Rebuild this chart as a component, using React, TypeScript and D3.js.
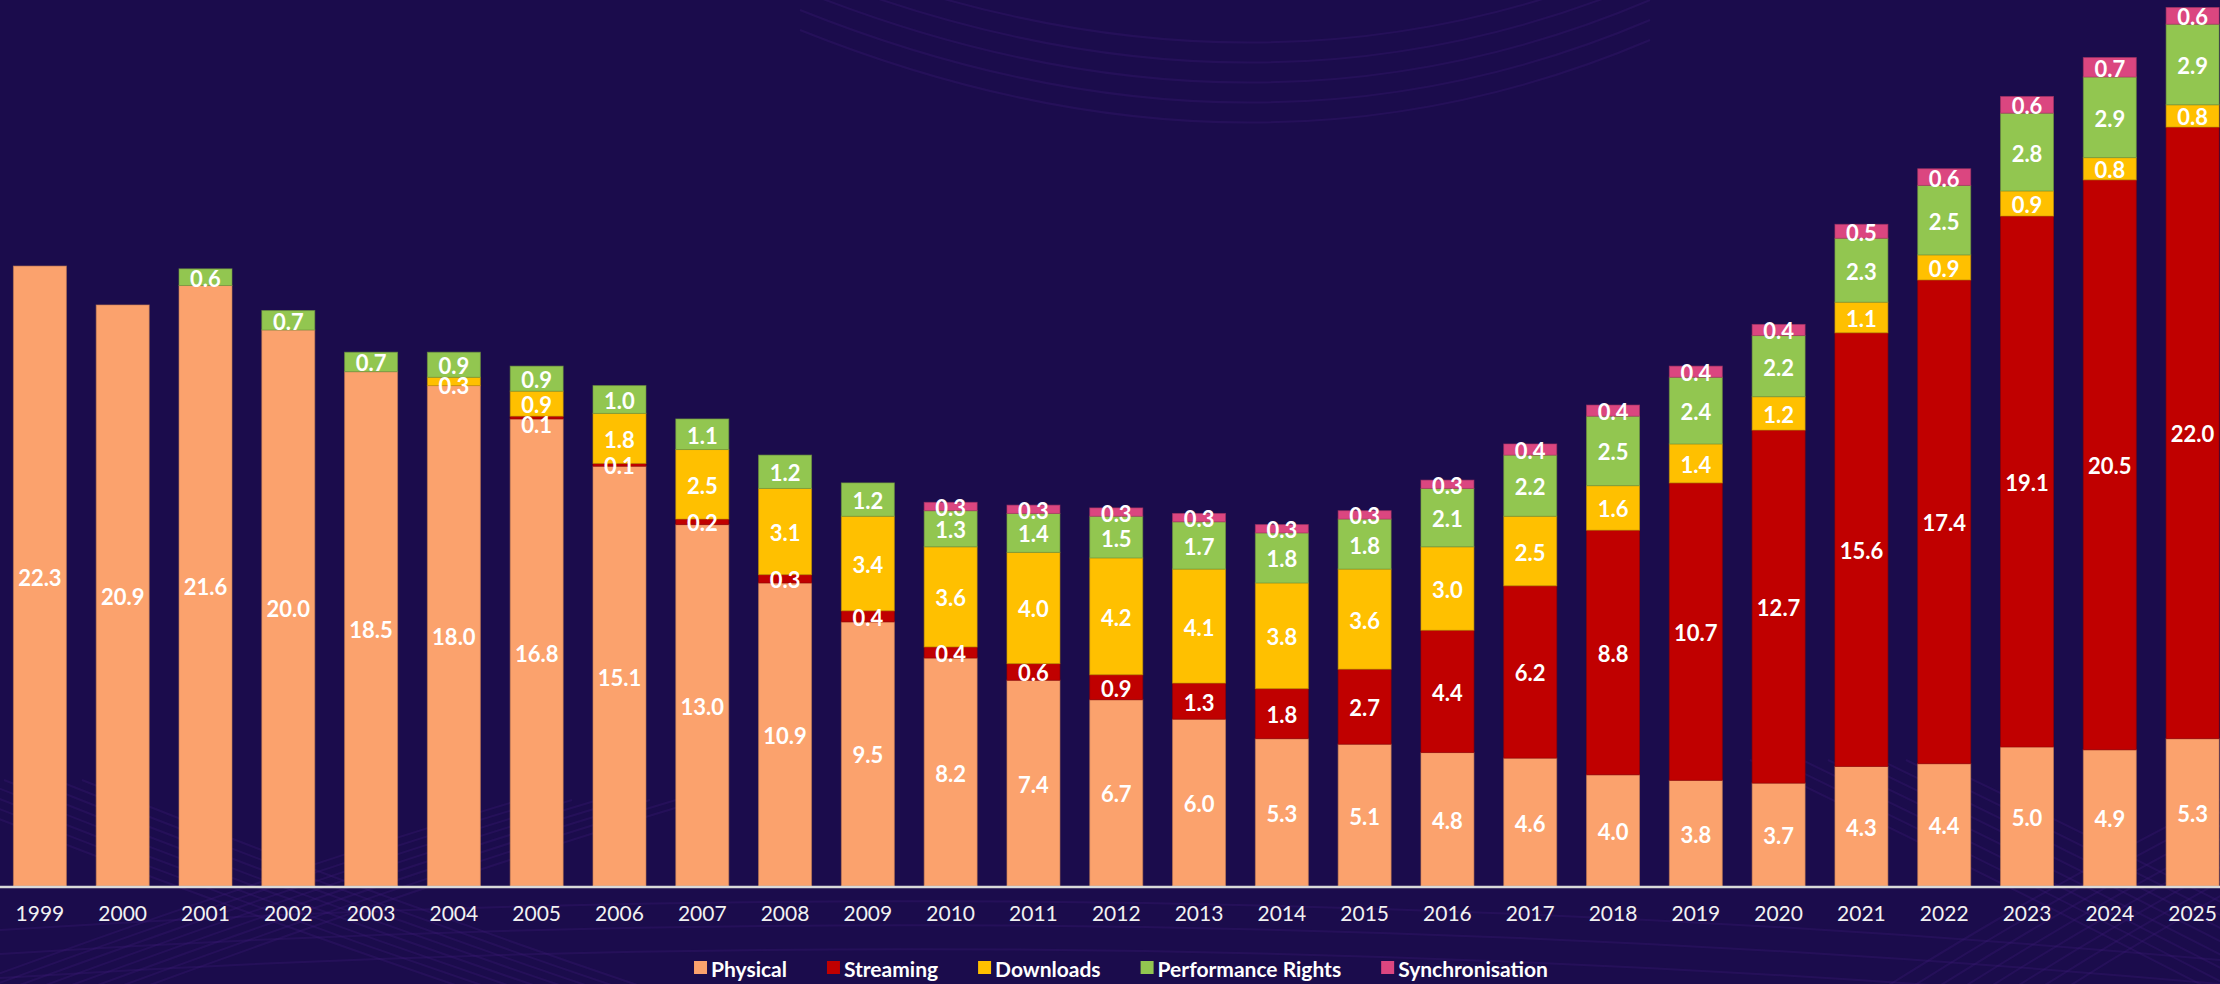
import React, { useEffect, useRef } from "react";
import * as d3 from "d3";

const width = 2220;
const height = 984;
const baseY = 886;

const years = [
  "1999", "2000", "2001", "2002", "2003", "2004", "2005", "2006", "2007",
  "2008", "2009", "2010", "2011", "2012", "2013", "2014", "2015", "2016",
  "2017", "2018", "2019", "2020", "2021", "2022", "2023", "2024", "2025",
];
const physical = [
  22.3, 20.9, 21.6, 20.0, 18.5, 18.0, 16.8, 15.1, 13.0, 10.9, 9.5, 8.2, 7.4,
  6.7, 6.0, 5.3, 5.1, 4.8, 4.6, 4.0, 3.8, 3.7, 4.3, 4.4, 5.0, 4.9, 5.3,
];
const streaming = [
  0, 0, 0, 0, 0, 0, 0.1, 0.1, 0.2, 0.3, 0.4, 0.4, 0.6, 0.9, 1.3, 1.8, 2.7,
  4.4, 6.2, 8.8, 10.7, 12.7, 15.6, 17.4, 19.1, 20.5, 22.0,
];
const downloads = [
  0, 0, 0, 0, 0, 0.3, 0.9, 1.8, 2.5, 3.1, 3.4, 3.6, 4.0, 4.2, 4.1, 3.8, 3.6,
  3.0, 2.5, 1.6, 1.4, 1.2, 1.1, 0.9, 0.9, 0.8, 0.8,
];
const performanceRights = [
  0, 0, 0.6, 0.7, 0.7, 0.9, 0.9, 1.0, 1.1, 1.2, 1.2, 1.3, 1.4, 1.5, 1.7, 1.8,
  1.8, 2.1, 2.2, 2.5, 2.4, 2.2, 2.3, 2.5, 2.8, 2.9, 2.9,
];
const synchronisation = [
  0, 0, 0, 0, 0, 0, 0, 0, 0, 0, 0, 0.3, 0.3, 0.3, 0.3, 0.3, 0.3, 0.3, 0.4,
  0.4, 0.4, 0.4, 0.5, 0.6, 0.6, 0.7, 0.6,
];

const seriesNames = [
  "Physical",
  "Streaming",
  "Downloads",
  "Performance Rights",
  "Synchronisation",
];
const seriesValues = [physical, streaming, downloads, performanceRights, synchronisation];
const colors = ["#FBA26D", "#C00000", "#FFC000", "#92C650", "#DB4680"];

const bg = "#1B0C4C";
const font = "Lato, 'Open Sans', sans-serif";

export default function App() {
  const ref = useRef<SVGSVGElement | null>(null);

  useEffect(() => {
    document.body.style.margin = "0";
    document.body.style.background = bg;
    const svg = d3.select(ref.current);
    svg.selectAll("*").remove();

    svg.append("rect").attr("width", width).attr("height", height).attr("fill", bg);

    // faint background swirls
    const deco = svg.append("g").attr("fill", "none").attr("stroke", "#3A1A72").attr("stroke-opacity", 0.35).attr("stroke-width", 2);
    for (let i = 0; i < 5; i++) {
      const off = i * 20;
      deco.append("path").attr("d", `M 800 ${-50 + off} Q 1250 ${130 + off} 1650 ${-40 + off}`);
    }
    for (let i = 0; i < 8; i++) {
      const off = i * 26;
      deco.append("path").attr("d", `M ${-100 + off} ${780} Q ${200 + off} ${900} ${500 + off} ${1000}`);
      deco.append("path").attr("d", `M ${-100 + off} ${1010} Q ${250 + off} ${880} ${520 + off} ${800}`);
      deco.append("path").attr("d", `M ${1850 + off} ${1010} Q ${2050 + off} ${880} ${2300 + off} ${760}`);
      deco.append("path").attr("d", `M ${1750 + off} ${760} Q ${2000 + off} ${880} ${2250 + off} ${1010}`);
    }
    for (let i = 0; i < 3; i++) {
      const off = i * 24;
      deco.append("path").attr("d", `M 0 ${930 + off} Q 1100 ${860 + off} 2220 ${960 + off}`);
    }

    const rows = years.map((yr, i) => {
      const row: Record<string, any> = { year: yr };
      seriesNames.forEach((s, k) => (row[s] = seriesValues[k][i]));
      return row;
    });
    const stacked = d3.stack<any>().keys(seriesNames)(rows);

    const x = d3
      .scaleBand()
      .domain(years)
      .range([-1.5, 2234])
      .paddingInner(0.36)
      .paddingOuter(0.18);
    const y = d3.scaleLinear().domain([0, 31.87]).range([baseY, 0]);

    const g = svg.append("g");
    stacked.forEach((layer, k) => {
      g.append("g")
        .attr("fill", colors[k])
        .attr("stroke", d3.color(colors[k])!.darker(0.7).formatHex())
        .attr("stroke-width", 1)
        .attr("stroke-opacity", 0.6)
        .selectAll("rect")
        .data(layer.filter((d) => d[1] - d[0] > 0))
        .enter()
        .append("rect")
        .attr("x", (d: any) => x(d.data.year)!)
        .attr("y", (d) => y(d[1]))
        .attr("width", x.bandwidth())
        .attr("height", (d) => y(d[0]) - y(d[1]));
    });

    // data labels, pushed down when they would collide with the one above
    const labels = svg.append("g")
      .attr("fill", "#FFFFFF")
      .attr("font-family", font)
      .attr("font-weight", 700)
      .attr("font-size", 22)
      .attr("text-anchor", "middle");
    years.forEach((yr, i) => {
      let prev = -Infinity;
      for (let k = seriesNames.length - 1; k >= 0; k--) {
        const seg = stacked[k][i];
        const v = seg[1] - seg[0];
        if (v <= 0) continue;
        let cy = y((seg[0] + seg[1]) / 2) + 1;
        cy = Math.max(cy, prev + 20);
        prev = cy;
        labels
          .append("text")
          .attr("x", x(yr)! + x.bandwidth() / 2)
          .attr("y", cy)
          .attr("dominant-baseline", "central")
          .text(v.toFixed(1));
      }
    });

    // axis
    svg.append("line")
      .attr("x1", 0)
      .attr("x2", width)
      .attr("y1", baseY + 1)
      .attr("y2", baseY + 1)
      .attr("stroke", "#D9D9D9")
      .attr("stroke-width", 2.5);

    svg.append("g")
      .selectAll("text")
      .data(years)
      .enter()
      .append("text")
      .attr("x", (d) => x(d)! + x.bandwidth() / 2)
      .attr("y", 921)
      .attr("text-anchor", "middle")
      .attr("font-family", font)
      .attr("font-size", 21)
      .attr("fill", "#F2F2F2")
      .text((d) => d);

    // legend
    const legend = svg.append("g");
    let lx = 0;
    seriesNames.forEach((s, k) => {
      const item = legend.append("g").attr("transform", `translate(${lx},0)`);
      item.append("rect").attr("x", 0).attr("y", 961).attr("width", 13).attr("height", 13).attr("fill", colors[k]);
      const t = item
        .append("text")
        .attr("x", 17)
        .attr("y", 968)
        .attr("dominant-baseline", "central")
        .attr("font-family", font)
        .attr("font-weight", 700)
        .attr("font-size", 21)
        .attr("fill", "#FFFFFF")
        .text(s);
      const w = (t.node() as SVGTextElement).getComputedTextLength();
      lx += 17 + w + 40;
    });
    const total = lx - 40;
    legend.attr("transform", `translate(${1121 - total / 2},0)`);
  }, []);

  return <svg ref={ref} width={width} height={height} style={{ display: "block" }} />;
}
